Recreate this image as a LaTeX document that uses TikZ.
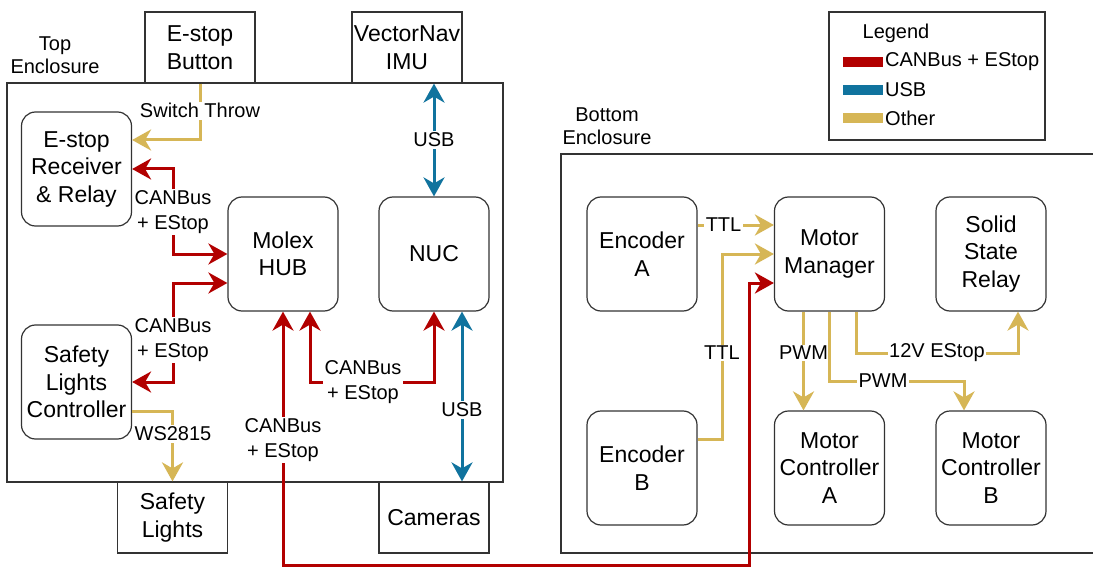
\documentclass[tikz,border=0pt]{standalone}
\usepackage{fontspec}
\setmainfont{Liberation Sans}
\usetikzlibrary{arrows.meta,calc}
\definecolor{cred}{HTML}{B20000}
\definecolor{cblue}{HTML}{10739E}
\definecolor{cgold}{HTML}{D6B656}
\tikzset{
  box/.style={draw=black!80, line width=1.2pt, rounded corners=14pt, minimum width=110pt, minimum height=114pt, align=center, font=\fontsize{23}{27.5}\selectfont, inner sep=0pt},
  sqbox/.style={draw=black!80, line width=1.2pt, minimum width=110pt, minimum height=71pt, align=center, font=\fontsize{23}{27.5}\selectfont, inner sep=0pt},
  lbl/.style={fill=white, align=center, font=\fontsize{20}{25}\selectfont, inner sep=1.5pt},
  encl/.style={align=center, font=\fontsize{20}{23.5}\selectfont},
  tip/.tip={Stealth[length=19pt,width=21pt,inset=6pt]},
  wred/.style={draw=cred, line width=3pt},
  wblue/.style={draw=cblue, line width=3pt},
  wgold/.style={draw=cgold, line width=3pt},
}
\begin{document}
\begin{tikzpicture}[x=1pt,y=-1pt]
\useasboundingbox[fill=white] (0,0) rectangle (1093,567);
% enclosures
\node[draw=black!80, line width=1.2pt, minimum width=496pt, minimum height=399pt, inner sep=0pt] (topenc) at (255,282.5) {};
\draw[black!80, line width=1.2pt] (1095,154) -- (561,154) -- (561,553) -- (1095,553);
\node[encl] (toplbl) at (55,55) {Top\\Enclosure};
\node[encl] (botlbl) at (607,126) {Bottom\\Enclosure};
% top boxes
\node[sqbox, fill=white] (ebtn) at (200,47.5) {E-stop\\Button};
\node[sqbox, fill=white] (vnav) at (407,47.5) {VectorNav\\IMU};
\node[sqbox, fill=white] (sl) at (172.5,517.5) {Safety\\Lights};
\node[sqbox, fill=white] (cams) at (434,517.5) {Cameras};
\node[box] (recv) at (76.5,169) {E-stop\\Receiver\\\& Relay};
\node[box] (molex) at (283,254) {Molex\\HUB};
\node[box] (nuc) at (434,254) {NUC};
\node[box] (slc) at (76.5,382) {Safety\\Lights\\Controller};
% bottom boxes
\node[box] (encA) at (642,254) {Encoder\\A};
\node[box] (mm) at (829.5,254) {Motor\\Manager};
\node[box] (ssr) at (991,254) {Solid\\State\\Relay};
\node[box] (encB) at (642,468) {Encoder\\B};
\node[box] (mca) at (829.5,468) {Motor\\Controller\\A};
\node[box] (mcb) at (991,468) {Motor\\Controller\\B};
% legend
\node[draw=black!80, line width=1.2pt, minimum width=216pt, minimum height=128pt, inner sep=0pt] (leg) at (937,76) {};
\node[font=\fontsize{20}{23}\selectfont] (legt) at (896,33) {Legend};
\draw[cred, line width=10pt] (843,62) -- (883,62);
\draw[cblue, line width=10pt] (843,90) -- (883,90);
\draw[cgold, line width=10pt] (843,118) -- (883,118);
\node[anchor=west, inner sep=1pt, font=\fontsize{20}{23}\selectfont] (l1) at (884,62) {CANBus + EStop};
\node[anchor=west, inner sep=1pt, font=\fontsize{20}{23}\selectfont] (l2) at (884,90) {USB};
\node[anchor=west, inner sep=1pt, font=\fontsize{20}{23}\selectfont] (l3) at (884,118) {Other};
% top connectors
\draw[wgold, -tip] (ebtn.south) |- ([yshift=29pt]recv.east) node[lbl, pos=0.24] (lst) {Switch Throw};
\draw[wred, tip-tip] (recv.east) -| (173,212) |- (molex.west);
\node[lbl] (lr1) at (173,212) {CANBus\\+ EStop};
\draw[wred, tip-tip] (slc.east) -| (173,340) |- ([yshift=-29pt]molex.west);
\node[lbl] (lr2) at (173,340) {CANBus\\+ EStop};
\draw[wred, tip-tip] ([xshift=27pt]molex.south) |- (363,382) -| (nuc.south);
\node[lbl] (lr3) at (363,382) {CANBus\\+ EStop};
\draw[wred, tip-tip] (molex.south) -- (283,565) -| (749,400) |- ([yshift=-29pt]mm.west);
\node[lbl] (lr4) at (283,440) {CANBus\\+ EStop};
\draw[wblue, tip-tip] (nuc.north) -- (nuc.north |- vnav.south);
\node[lbl] (lu1) at (434,140) {USB};
\coordinate (usbb) at ([xshift=28pt]nuc.south);
\draw[wblue, tip-tip] (usbb) -- (usbb |- cams.north);
\node[lbl] (lu2) at (462,410) {USB};
\draw[wgold, -tip] ([yshift=-29pt]slc.east) -| (sl.north);
\node[lbl] (lws) at (173,434) {WS2815};
% bottom connectors
\draw[wgold, -tip] ([yshift=29pt]encA.east) -- ([yshift=29pt]mm.west) node[lbl, pos=0.34] (lt1) {TTL};
\draw[wgold, -tip] ([yshift=29pt]encB.east) -| (722,353) |- (mm.west);
\node[lbl] (lt2) at (722,353) {TTL};
\draw[wgold, -tip] ([xshift=-26pt]mm.south) -- ([xshift=-26pt]mca.north);
\node[lbl] (lp1) at (803.5,353) {PWM};
\draw[wgold, -tip] (mm.south) |- (883,381) -| ([xshift=-27pt]mcb.north);
\node[lbl] (lp2) at (883,381) {PWM};
\draw[wgold, -tip] ([xshift=27pt]mm.south) |- (937,353) -| ([xshift=27pt]ssr.south);
\node[lbl] (l12) at (937,353) {12V EStop};
\end{tikzpicture}
\end{document}
